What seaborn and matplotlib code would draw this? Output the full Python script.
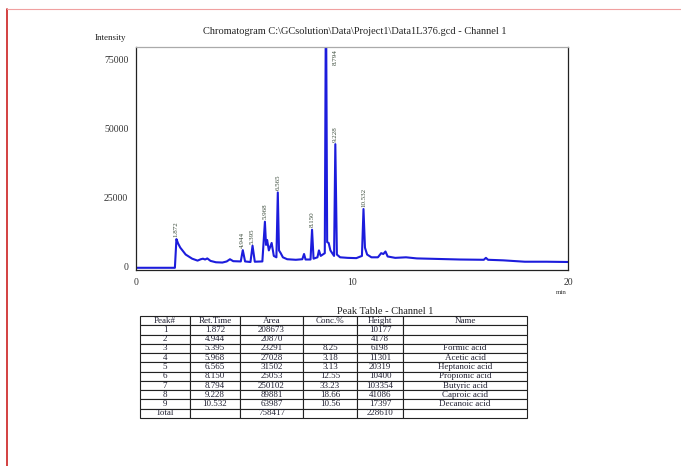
import matplotlib
matplotlib.use("Agg")
import matplotlib.pyplot as plt
from matplotlib.lines import Line2D
from matplotlib.ticker import MultipleLocator, FixedLocator
import seaborn as sns
import pandas as pd

# ---------------- data ----------------
trace_time = [0.0, 1.80, 1.872, 1.95, 2.05, 2.3, 2.6, 2.85, 3.0, 3.1, 3.2, 3.3, 3.45, 3.7, 4.0,
              4.2, 4.35, 4.5, 4.85, 4.944, 5.05, 5.3, 5.395, 5.5, 5.85, 5.968, 6.02, 6.07, 6.15,
              6.28, 6.38, 6.5, 6.565, 6.62, 6.7, 6.8, 7.0, 7.4, 7.7, 7.78, 7.85, 8.08, 8.15, 8.22,
              8.4, 8.47, 8.55, 8.74, 8.794, 8.85, 8.92, 9.0, 9.17, 9.228, 9.3, 9.45, 9.8, 10.2,
              10.46, 10.532, 10.6, 10.7, 10.9, 11.2, 11.35, 11.45, 11.55, 11.65, 12.0, 12.5, 13.0,
              14.0, 15.0, 16.1, 16.2, 16.3, 17.0, 18.0, 19.0, 20.0]
trace_int = [-300, -300, 10100, 8500, 7000, 4500, 3000, 2300, 2800, 3000, 2700, 3100, 2200, 1700, 1600,
             2000, 2800, 2100, 2000, 6100, 2000, 1800, 7700, 1900, 2000, 16400, 8000, 9800, 6000,
             8700, 4000, 3500, 27000, 6000, 5000, 3500, 2800, 2600, 2800, 4700, 2700, 2700, 13500, 3000,
             3500, 6000, 4000, 5000, 103354, 9000, 8700, 6000, 4000, 44500, 4500, 3500, 3300, 3200,
             4000, 21000, 7000, 4500, 3500, 3500, 5000, 4700, 5600, 3800, 3300, 3500, 3100,
             2900, 2700, 2600, 3300, 2600, 2400, 1900, 1900, 1800]

label_times = [1.872, 4.944, 5.395, 5.968, 6.565, 8.150, 8.794, 9.228, 10.532]
label_apex = [10100, 6100, 7700, 16400, 27000, 13500, 103354, 44500, 21000]

peak_no = ['1', '2', '3', '4', '5', '6', '7', '8', '9', 'Total']
ret_time = ['1.872', '4.944', '5.395', '5.968', '6.565', '8.150', '8.794', '9.228', '10.532', '']
area = ['208673', '20870', '23291', '27028', '31502', '25053', '250102', '89881', '63987', '758417']
conc = ['', '', '8.25', '3.18', '3.13', '12.55', '33.23', '18.66', '10.56', '']
height = ['10177', '4178', '6198', '11301', '20319', '10400', '103354', '41086', '17397', '228610']
names = ['', '', 'Formic acid', 'Acetic acid', 'Heptanoic acid', 'Propionic acid',
         'Butyric acid', 'Caproic acid', 'Decanoic acid', '']
headers = ['Peak#', 'Ret.Time', 'Area', 'Conc.%', 'Height', 'Name']

y_ticks = [0, 25000, 50000, 75000]
x_ticks = [0, 10, 20]

# ---------------- figure ----------------
sns.set_style("white")
plt.rcParams['font.family'] = ['Liberation Serif', 'DejaVu Serif']

W, H = 681, 466
fig = plt.figure(figsize=(W / 100, H / 100), dpi=100)
fig.patch.set_facecolor('white')

# red page border
fig.add_artist(Line2D([7 / W, 7 / W], [0, 1 - 9 / H], color='#cc2020', lw=1.2))
fig.add_artist(Line2D([7 / W, 1], [1 - 9 / H, 1 - 9 / H], color='#f0a0a0', lw=0.8))

ax = fig.add_axes([136 / W, 1 - 270 / H, (568 - 136) / W, (270 - 47) / H])
df = pd.DataFrame({'t': trace_time, 'i': trace_int})
sns.lineplot(data=df, x='t', y='i', ax=ax, color='#1c1cdc', lw=1.5, sort=False, estimator=None)

ax.set_xlim(0, 20)
ax.set_ylim(-1100, 79700)
ax.set_xlabel('')
ax.set_ylabel('')
ax.yaxis.set_major_locator(FixedLocator(y_ticks))
ax.yaxis.set_minor_locator(MultipleLocator(5000))
ax.xaxis.set_major_locator(FixedLocator(x_ticks))
ax.xaxis.set_minor_locator(MultipleLocator(1))
ax.set_yticklabels([str(v) for v in y_ticks], fontsize=7, color='#333333')
ax.set_xticklabels([str(v) for v in x_ticks], fontsize=7, color='#333333')
ax.tick_params(axis='both', which='major', direction='out', length=4, width=0.8, color='#333333', pad=1.5)
ax.tick_params(axis='both', which='minor', direction='out', length=2.5, width=0.7, color='#333333')
for s in ['left', 'bottom', 'right']:
    ax.spines[s].set_color('#222222')
    ax.spines[s].set_linewidth(0.9)
ax.spines['top'].set_color('#aaaaaa')
ax.spines['top'].set_linewidth(0.9)

# peak labels
for t, a in zip(label_times, label_apex):
    if a > 79700:
        ax.text(t + 0.42, 79000, f'{t:.3f}', rotation=90, fontsize=5, color='#3a4a3a',
                ha='center', va='top')
    else:
        ax.text(t, a + 800, f'{t:.3f}', rotation=90, fontsize=5, color='#3a4a3a',
                ha='center', va='bottom')

fig.text(355 / W, 1 - 32 / H, 'Chromatogram C:\\GCsolution\\Data\\Project1\\Data1L376.gcd - Channel 1',
         fontsize=7.5, ha='center', va='center', color='#222222')
fig.text(110 / W, 1 - 38 / H, 'Intensity', fontsize=6.5, ha='center', va='center', color='#222222')
fig.text(561 / W, 1 - 293 / H, 'min', fontsize=5, ha='center', va='center', color='#333333')

# peak table
fig.text(385 / W, 1 - 311 / H, 'Peak Table - Channel 1', fontsize=7.5, ha='center', va='center',
         color='#222222')
tax = fig.add_axes([140 / W, 1 - 418 / H, (527 - 140) / W, (418 - 316) / H])
tax.axis('off')
rows = [[p, r, a, c, h, n] for p, r, a, c, h, n in zip(peak_no, ret_time, area, conc, height, names)]
col_w = [50, 50, 63, 54, 46, 124]
tot = sum(col_w)
tbl = tax.table(cellText=rows, colLabels=headers, cellLoc='center', bbox=[0, 0, 1, 1],
                colWidths=[c / tot for c in col_w])
tbl.auto_set_font_size(False)
tbl.set_fontsize(6.5)
for (r, c), cell in tbl.get_celld().items():
    cell.set_linewidth(0.8)
    cell.set_edgecolor('#222222')
    cell.get_text().set_color('#222233')
    cell.PAD = 0.02

fig.savefig('out.png', dpi=100, facecolor='white')
